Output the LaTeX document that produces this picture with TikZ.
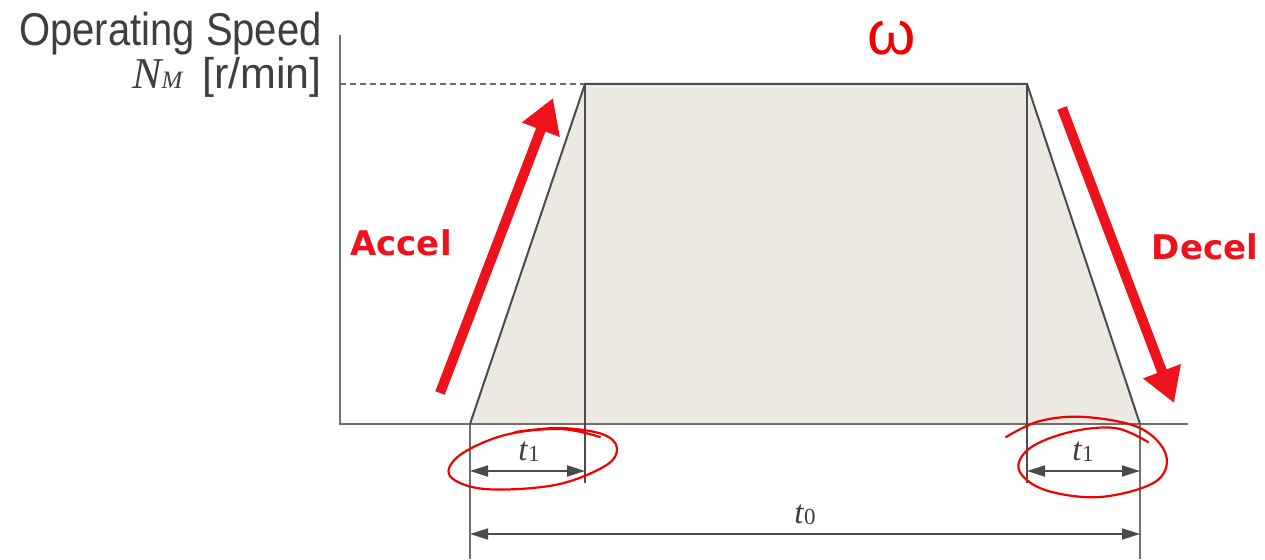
\documentclass[tikz,border=0pt]{standalone}
\usepackage{fontspec}
\usetikzlibrary{arrows.meta}
\setmainfont{Liberation Serif}
\newfontfamily\narrowsans[FakeStretch=0.87]{Liberation Sans}
\newfontfamily\plainsans{Liberation Sans}
\newfontfamily\boldsans{DejaVu Sans}
\definecolor{fillgray}{RGB}{236,233,226}
\definecolor{linegray}{RGB}{75,75,75}
\definecolor{axisgray}{RGB}{110,110,110}
\definecolor{textgray}{RGB}{62,62,62}
\definecolor{arrowred}{RGB}{238,18,28}
\definecolor{penred}{RGB}{240,0,0}
\begin{document}
\begin{tikzpicture}[x=1pt,y=-1pt,
  axisline/.style={draw=axisgray,line width=2pt},
  outline/.style={draw=linegray,line width=2pt,line join=miter},
  extline/.style={draw=axisgray,line width=1.8pt},
  dimline/.style={draw=linegray,line width=1.8pt,{Triangle[length=18pt,width=11pt]}-{Triangle[length=18pt,width=11pt]}},
  guide/.style={draw=axisgray,line width=1.4pt,dash pattern=on 6pt off 4pt},
  bigarrow/.style={draw=arrowred,line width=10pt,-{Triangle[length=34pt,width=38pt]}},
  pen/.style={draw=penred,line width=2.2pt,line cap=round,line join=round},
  redlabel/.style={text=arrowred,font=\boldsans\bfseries\fontsize{34}{34}\selectfont,inner sep=0pt},
  timelabel/.style={text=textgray,font=\fontsize{33}{33}\selectfont,inner sep=0pt},
  axislabel/.style={text=textgray,inner sep=0pt,anchor=base east}
]
\useasboundingbox (0,0) rectangle (1265,559);
\fill[white] (0,0) rectangle (1265,559);
% key points
\coordinate (ytop) at (340,35);
\coordinate (origin) at (340,424);
\coordinate (xend) at (1188,424);
\coordinate (nm) at (340,84);
\coordinate (A) at (470,424);
\coordinate (B) at (585,84);
\coordinate (C) at (1027,84);
\coordinate (D) at (1140,424);
\coordinate (Bext) at (585,483);
\coordinate (Cext) at (1027,483);
\coordinate (Aext) at (470,559);
\coordinate (Dext) at (1140,559);
\coordinate (t1La) at (470,471);
\coordinate (t1Lb) at (585,471);
\coordinate (t1Ra) at (1027,471);
\coordinate (t1Rb) at (1140,471);
\coordinate (t0a) at (470,534);
\coordinate (t0b) at (1140,534);
% profile
\fill[fillgray] (A) -- (B) -- (C) -- (D) -- cycle;
\draw[axisline] (ytop) -- (origin) -- (xend);
\draw[guide] (nm) -- (B);
\draw[extline] (A) -- (Aext);
\draw[extline] (D) -- (Dext);
\draw[outline] (A) -- (B) -- (C) -- (D);
\draw[outline] (B) -- (Bext);
\draw[outline] (C) -- (Cext);
% dimensions
\draw[dimline] (t1La) -- (t1Lb);
\draw[dimline] (t1Ra) -- (t1Rb);
\draw[dimline] (t0a) -- (t0b);
\node[timelabel] (t1L) at (529,452) {\textit{t}\raisebox{-1pt}{\fontsize{23}{23}\selectfont 1}};
\node[timelabel] (t1R) at (1083,452) {\textit{t}\raisebox{-1pt}{\fontsize{23}{23}\selectfont 1}};
\node[timelabel] (t0) at (805,515) {\textit{t}\raisebox{-1pt}{\fontsize{23}{23}\selectfont 0}};
% axis labels
\node[axislabel,font=\narrowsans\fontsize{46}{46}\selectfont] (speed) at (322,46) {Operating Speed};
\node[axislabel] (unit) at (322,89) {{\rmfamily\itshape\fontsize{44}{44}\selectfont N{\fontsize{25}{25}\selectfont M}}\hspace{20pt}{\plainsans\fontsize{43}{43}\selectfont[r/min]}};
% red arrows
\coordinate (accS) at (440,393);
\coordinate (accE) at (553,98);
\coordinate (decS) at (1062,108);
\coordinate (decE) at (1174,403);
\draw[bigarrow] (accS) -- (accE);
\draw[bigarrow] (decS) -- (decE);
\node[redlabel] (accel) at (401,243) {Accel};
\node[redlabel] (decel) at (1205,247) {Decel};
% handwritten annotations
\node[text=penred,inner sep=0pt,font=\plainsans\fontsize{62}{62}\selectfont] (omega) at (892,38) {ω};
\draw[pen] plot[smooth,tension=0.6] coordinates {(600,437) (560,429) (505,435) (460,455) (450,476) (485,489) (555,485) (605,466) (617,448) (602,434) (560,428) (515,432)};
\draw[pen] plot[smooth,tension=0.6] coordinates {(1006,437) (1040,421) (1085,417) (1140,428) (1166,455) (1155,482) (1100,497) (1045,490) (1019,470) (1030,448) (1070,432) (1115,428) (1148,442)};
\end{tikzpicture}
\end{document}
